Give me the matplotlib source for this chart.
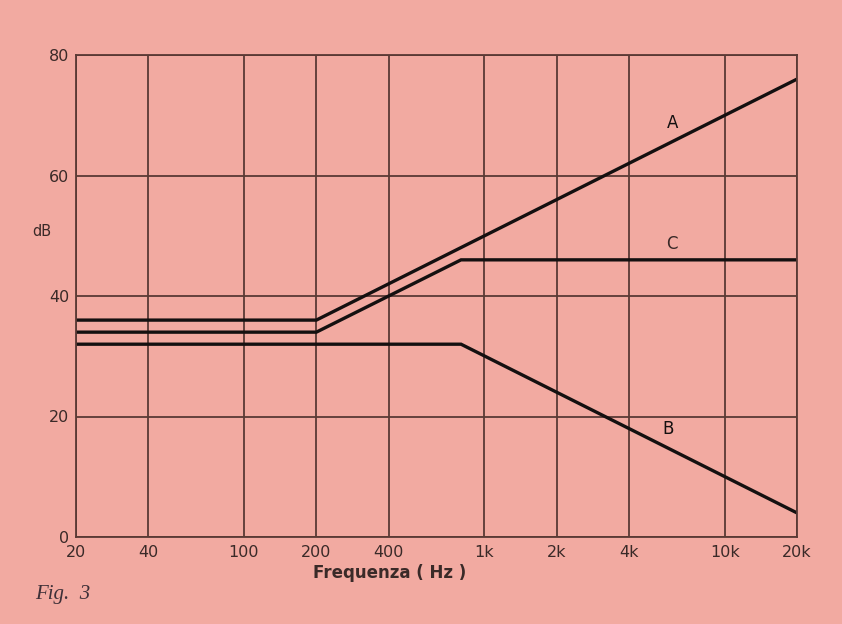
import matplotlib
matplotlib.use("Agg")
import matplotlib.pyplot as plt
from matplotlib.ticker import FixedLocator, NullLocator

# dati
freq_ticks = [20, 40, 100, 200, 400, 1000, 2000, 4000, 10000, 20000]
freq_labels = ["20", "40", "100", "200", "400", "1k", "2k", "4k", "10k", "20k"]
db_ticks = [0, 20, 40, 60, 80]

fA = [20, 200, 20000]
dbA = [36, 36, 76]
fB = [20, 800, 20000]
dbB = [32, 32, 4]
fC = [20, 200, 800, 20000]
dbC = [34, 34, 46, 46]

bg = "#f2aaa1"
grid_col = "#5a3a35"
ink = "#141010"
txt = "#3a2a28"

fig = plt.figure(figsize=(8.42, 6.24), dpi=100, facecolor=bg)
ax = fig.add_axes([76/842, 1-537/624, (797-76)/842, (537-55)/624])
ax.set_facecolor(bg)
ax.set_xscale("log")
ax.set_xlim(20, 20000)
ax.set_ylim(0, 80)

ax.xaxis.set_major_locator(FixedLocator(freq_ticks))
ax.xaxis.set_minor_locator(NullLocator())
ax.set_xticklabels(freq_labels)
ax.set_yticks(db_ticks)

ax.grid(True, color=grid_col, lw=1.3)
ax.set_axisbelow(True)
for s in ax.spines.values():
    s.set_color(grid_col)
    s.set_linewidth(1.3)
ax.tick_params(length=0, labelsize=11.5, colors=txt, pad=6)
ax.tick_params(axis="y", pad=5)

ax.plot(fA, dbA, color=ink, lw=2.4, solid_joinstyle="miter")
ax.plot(fB, dbB, color=ink, lw=2.4, solid_joinstyle="miter")
ax.plot(fC, dbC, color=ink, lw=2.4, solid_joinstyle="miter")

ax.text(6100, 68.7, "A", fontsize=12, color=ink, ha="center", va="center")
ax.text(6050, 48.6, "C", fontsize=12, color=txt, ha="center", va="center")
ax.text(5800, 17.9, "B", fontsize=12, color=ink, ha="center", va="center")

fig.text(42/842, 1-232/624, "dB", fontsize=10.5, color=txt, ha="center", va="center")
fig.text(390/842, 1-573/624, "Frequenza ( Hz )", fontsize=12, fontweight="bold",
         color=txt, ha="center", va="center")
fig.text(35/842, 1-595/624, "Fig.  3", fontsize=15, fontstyle="italic",
         family="Liberation Serif", color="#3e3038", ha="left", va="center")

fig.savefig("out.png", dpi=100, facecolor=bg)
